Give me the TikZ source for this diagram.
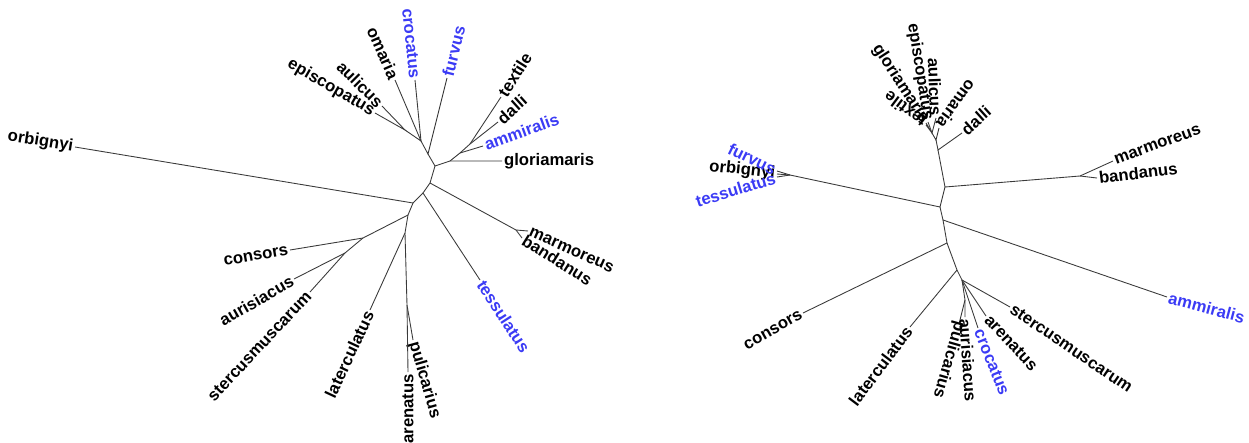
\documentclass[tikz,border=0pt]{standalone}
\usepackage{fontspec}
\setmainfont{Liberation Sans}
\usetikzlibrary{positioning}
\definecolor{taxBlue}{HTML}{3B3BF5}
\definecolor{edgeGray}{HTML}{3A3A3A}

\begin{document}
\begin{tikzpicture}[x=0.02cm, y=-0.02cm,
    tip/.style={font=\fontsize{9.5}{11}\selectfont\bfseries, text=black, inner sep=1pt},
    tipb/.style={tip, text=taxBlue},
    edge/.style={line width=0.5pt, draw=edgeGray},
  ]
  \useasboundingbox (0,0) rectangle (1249,443);

  % left tree: inner points
  \coordinate (l-m0) at (405,130);
  \coordinate (l-m1) at (421,141);
  \coordinate (l-nf) at (428,154);
  \coordinate (l-n1) at (435,166);
  \coordinate (l-nA) at (450,161);
  \coordinate (l-nB) at (460,153);
  \coordinate (l-nC) at (470,144);
  \coordinate (l-n2) at (430,183);
  \coordinate (l-mb) at (516,230);
  \coordinate (l-n2b) at (423,193);
  \coordinate (l-n3) at (413,203);
  \coordinate (l-n4) at (408,215);
  \coordinate (l-c1) at (363,238);
  \coordinate (l-c2) at (345,253);
  \coordinate (l-L1) at (405,233);
  \coordinate (l-L2) at (407,305);

  % left tree: tips
  \node[tip, anchor=east, rotate=-9] (l-orbignyi) at (75,147) {orbignyi};
  \node[tip, anchor=east, rotate=-30] (l-episcopatus) at (375,113) {episcopatus};
  \node[tip, anchor=east, rotate=-45] (l-aulicus) at (382,106) {aulicus};
  \node[tip, anchor=east, rotate=-66] (l-omaria) at (395,80) {omaria};
  \node[tipb, anchor=east, rotate=-84] (l-crocatus) at (415,80) {crocatus};
  \node[tipb, anchor=west, rotate=76] (l-furvus) at (447,78) {furvus};
  \node[tip, anchor=west, rotate=58] (l-textile) at (501,97) {textile};
  \node[tip, anchor=west, rotate=42] (l-dalli) at (498,122) {dalli};
  \node[tipb, anchor=west, rotate=20] (l-ammiralis) at (483,146) {ammiralis};
  \node[tip, anchor=west] (l-gloriamaris) at (502,161) {gloriamaris};
  \node[tip, anchor=west, rotate=-24] (l-marmoreus) at (528,231) {marmoreus};
  \node[tip, anchor=west, rotate=-32] (l-bandanus) at (522,238) {bandanus};
  \node[tipb, anchor=west, rotate=-57] (l-tessulatus) at (480,280) {tessulatus};
  \node[tip, anchor=east, rotate=10] (l-consors) at (290,250) {consors};
  \node[tip, anchor=east, rotate=30] (l-aurisiacus) at (294,279) {aurisiacus};
  \node[tip, anchor=east, rotate=47] (l-stercusmuscarum) at (310,292) {stercusmuscarum};
  \node[tip, anchor=east, rotate=65] (l-laterculatus) at (370,310) {laterculatus};
  \node[tip, anchor=east, rotate=90] (l-arenatus) at (408,372) {arenatus};
  \node[tip, anchor=west, rotate=-74] (l-pulicarius) at (413,340) {pulicarius};

  % left tree: branches
  \draw[edge] (l-episcopatus.east) -- (l-m0) -- (l-aulicus.east);
  \draw[edge] (l-m0) -- (l-m1) -- (l-omaria.east);
  \draw[edge] (l-m1) -- (l-crocatus.east);
  \draw[edge] (l-m1) -- (l-nf) -- (l-furvus.west);
  \draw[edge] (l-nf) -- (l-n1) -- (l-nA) -- (l-gloriamaris.west);
  \draw[edge] (l-nA) -- (l-nB) -- (l-ammiralis.west);
  \draw[edge] (l-nB) -- (l-nC) -- (l-dalli.west);
  \draw[edge] (l-nC) -- (l-textile.west);
  \draw[edge] (l-n1) -- (l-n2) -- (l-mb) -- (l-marmoreus.west);
  \draw[edge] (l-mb) -- (l-bandanus.west);
  \draw[edge] (l-n2) -- (l-n2b) -- (l-tessulatus.west);
  \draw[edge] (l-n2b) -- (l-n3) -- (l-orbignyi.east);
  \draw[edge] (l-n3) -- (l-n4) -- (l-c1) -- (l-consors.east);
  \draw[edge] (l-c1) -- (l-c2) -- (l-aurisiacus.east);
  \draw[edge] (l-c2) -- (l-stercusmuscarum.east);
  \draw[edge] (l-n4) -- (l-L1) -- (l-laterculatus.east);
  \draw[edge] (l-L1) -- (l-L2) -- (l-arenatus.east);
  \draw[edge] (l-L2) -- (l-pulicarius.west);

  % right tree: inner points
  \coordinate (r-U) at (932,133);
  \coordinate (r-O) at (936,140);
  \coordinate (r-D) at (938,150);
  \coordinate (r-M) at (945,187);
  \coordinate (r-mb) at (1080,176);
  \coordinate (r-Or) at (940,207);
  \coordinate (r-of) at (790,175);
  \coordinate (r-A) at (943,220);
  \coordinate (r-C) at (947,243);
  \coordinate (r-L) at (957,270);
  \coordinate (r-S) at (962,280);
  \coordinate (r-P) at (965,300);

  % right tree: tips
  \node[tip, anchor=east, rotate=-81] (r-episcopatus) at (928,122) {episcopatus};
  \node[tip, anchor=east, rotate=-88] (r-aulicus) at (936,118) {aulicus};
  \node[tip, anchor=east, rotate=-57] (r-gloriamaris) at (926,123) {gloriamaris};
  \node[tip, anchor=west, rotate=143] (r-textile) at (926,125) {textile};
  \node[tip, anchor=east, rotate=-126] (r-omaria) at (939,128) {omaria};
  \node[tip, anchor=west, rotate=42] (r-dalli) at (962,133) {dalli};
  \node[tip, anchor=west, rotate=20] (r-marmoreus) at (1113,161) {marmoreus};
  \node[tip, anchor=west, rotate=7] (r-bandanus) at (1097,178) {bandanus};
  \node[tip, anchor=east, rotate=-6] (r-orbignyi) at (777,174) {orbignyi};
  \node[tipb, anchor=east, rotate=-26] (r-furvus) at (777,171) {furvus};
  \node[tipb, anchor=east, rotate=17] (r-tessulatus) at (777,177) {tessulatus};
  \node[tipb, anchor=west, rotate=-15] (r-ammiralis) at (1167,297) {ammiralis};
  \node[tip, anchor=east, rotate=30] (r-consors) at (803,313) {consors};
  \node[tip, anchor=east, rotate=53] (r-laterculatus) at (910,327) {laterculatus};
  \node[tip, anchor=west, rotate=-34] (r-stercusmuscarum) at (1010,307) {stercusmuscarum};
  \node[tip, anchor=west, rotate=-47] (r-arenatus) at (986,316) {arenatus};
  \node[tipb, anchor=west, rotate=-68] (r-crocatus) at (978,328) {crocatus};
  \node[tip, anchor=west, rotate=-86] (r-aurisiacus) at (965,317) {aurisiacus};
  \node[tip, anchor=west, rotate=-106] (r-pulicarius) at (960,320) {pulicarius};

  % right tree: branches
  \draw[edge] (r-episcopatus.east) -- (r-U) -- (r-aulicus.east);
  \draw[edge] (r-gloriamaris.east) -- (r-U) -- (r-textile.west);
  \draw[edge] (r-U) -- (r-O) -- (r-omaria.east);
  \draw[edge] (r-O) -- (r-D) -- (r-dalli.west);
  \draw[edge] (r-D) -- (r-M) -- (r-mb) -- (r-marmoreus.west);
  \draw[edge] (r-mb) -- (r-bandanus.west);
  \draw[edge] (r-M) -- (r-Or) -- (r-of) -- (r-orbignyi.east);
  \draw[edge] (r-of) -- (r-furvus.east);
  \draw[edge] (r-of) -- (r-tessulatus.east);
  \draw[edge] (r-Or) -- (r-A) -- (r-ammiralis.west);
  \draw[edge] (r-A) -- (r-C) -- (r-consors.east);
  \draw[edge] (r-C) -- (r-L) -- (r-laterculatus.east);
  \draw[edge] (r-L) -- (r-S) -- (r-stercusmuscarum.west);
  \draw[edge] (r-S) -- (r-arenatus.west);
  \draw[edge] (r-S) -- (r-crocatus.west);
  \draw[edge] (r-S) -- (r-P) -- (r-aurisiacus.west);
  \draw[edge] (r-P) -- (r-pulicarius.west);
\end{tikzpicture}
\end{document}
